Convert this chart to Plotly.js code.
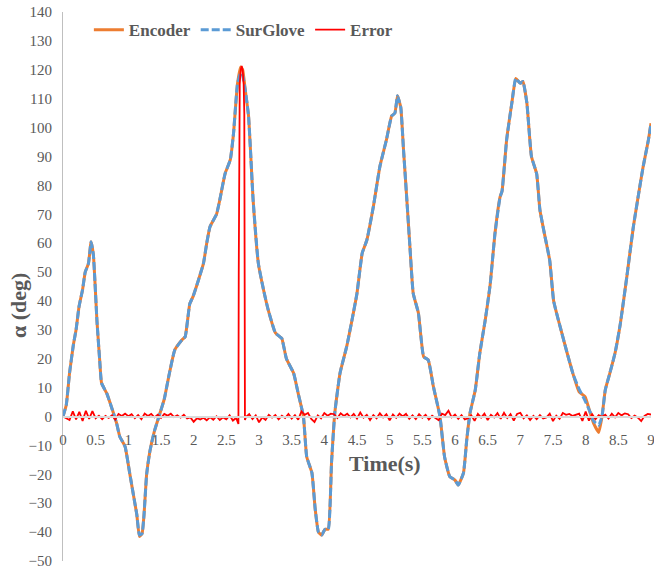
<!DOCTYPE html>
<html>
<head>
<meta charset="utf-8">
<script src="https://cdn.plot.ly/plotly-3.0.1.min.js"></script>
<style>html,body{margin:0;padding:0;background:#fff;}#chart{width:654px;height:572px;}</style>
</head>
<body>
<div id="chart"></div>
<script>
// Time (s) for the angle traces
var timeT = [0,0.05,0.1,0.16,0.2,0.245,0.3,0.34,0.39,0.43,0.465,0.52,0.56,0.59,0.67,0.74,0.82,0.87,0.95,1.02,1.1,1.13,1.17,1.21,1.24,1.28,1.33,1.4,1.485,1.55,1.62,1.71,1.82,1.87,1.94,1.99,2.07,2.15,2.2,2.25,2.35,2.4,2.48,2.56,2.61,2.67,2.72,2.75,2.79,2.84,2.91,2.99,3.07,3.14,3.25,3.32,3.35,3.42,3.53,3.6,3.68,3.73,3.81,3.86,3.91,3.96,4.01,4.06,4.11,4.16,4.24,4.34,4.42,4.5,4.58,4.65,4.75,4.85,4.95,5.03,5.08,5.12,5.17,5.21,5.26,5.31,5.36,5.44,5.52,5.59,5.67,5.77,5.84,5.92,6.0,6.05,6.13,6.18,6.23,6.31,6.38,6.46,6.54,6.61,6.69,6.72,6.79,6.87,6.93,7.0,7.04,7.1,7.17,7.25,7.3,7.38,7.45,7.51,7.61,7.71,7.81,7.9,7.99,8.07,8.12,8.2,8.25,8.3,8.37,8.45,8.53,8.63,8.73,8.81,8.88,8.96,9.0];
// Encoder angle (deg)
var encoder = [0,4,15,25,30,38,44,50,53,60.5,56,33,20,11.6,8,3.4,-2.3,-7,-10.4,-19.5,-30,-34,-41.5,-40.5,-34,-20,-12,-5,1.2,6,14,23,26.5,27.6,39,41.5,47,53,60,65.7,70,75,84,88.8,98,115,121,120,113,104,75,53,43.8,37,29,27.6,27,20,15,8,0,-13.9,-19.5,-32,-40,-41,-39,-39,-16,1.2,15,24,33,42.7,56.6,61,72.6,86.5,95.7,104,105,111,107,93,76,58.8,42.7,35.8,20.7,19.6,10.3,0,-13.9,-20.8,-22,-23.7,-19.5,-8,1.2,9.2,22,33,46,63,76,78,95.7,108.5,117,115.3,116,108.5,90,84,71.5,62,54,40,31,22.5,14.5,8.5,6.9,1.2,-2.3,-5.5,0,9.2,15,22,32,48.4,65.7,77,86.5,95.7,101.5];
// SurGlove angle (deg)
var surglove = [0,4,15,25,30,38,44,50,53,60.5,56,33,20,11.6,8,3.4,-2.3,-7,-10.4,-19.5,-30,-34,-41,-40.5,-34,-20,-12,-5,1.2,6,14,23,26.5,27.6,39,41.5,47,53,60,65.7,70,75,84,88.8,98,115,119,118,113,104,75,53,43.8,37,29,27.6,27,20,15,8,0,-13.9,-19.5,-32,-40,-41,-39,-39,-16,1.2,15,24,33,42.7,56.6,61,72.6,86.5,95.7,104,105,111,107,93,76,58.8,42.7,35.8,20.7,19.6,10.3,0,-13.9,-20.8,-22,-23.7,-19.5,-8,1.2,9.2,22,33,46,63,76,78,95.7,108.5,117,115.3,116,108.5,90,84,71.5,62,54,40,31,22.5,14.5,9.5,5.5,1.5,-1.5,-3,0,9.2,15,22,32,48.4,65.7,77,86.5,95.7,101.5];
// Error time (s) and value (deg)
var errT = [0,0.05,0.1,0.15,0.2,0.25,0.3,0.35,0.4,0.45,0.5,0.55,0.6,0.65,0.7,0.75,0.8,0.85,0.9,0.95,1,1.05,1.1,1.15,1.2,1.25,1.3,1.35,1.4,1.45,1.5,1.55,1.6,1.65,1.7,1.75,1.8,1.85,1.9,1.95,2,2.05,2.1,2.15,2.2,2.25,2.3,2.35,2.4,2.45,2.5,2.55,2.6,2.65,2.685,2.69,2.695,2.705,2.72,2.735,2.75,2.765,2.775,2.78,2.785,2.8,2.85,2.9,2.95,3,3.05,3.1,3.15,3.2,3.25,3.3,3.35,3.4,3.45,3.5,3.55,3.6,3.65,3.7,3.75,3.8,3.85,3.9,3.95,4,4.05,4.1,4.15,4.2,4.25,4.3,4.35,4.4,4.45,4.5,4.55,4.6,4.65,4.7,4.75,4.8,4.85,4.9,4.95,5,5.05,5.1,5.15,5.2,5.25,5.3,5.35,5.4,5.45,5.5,5.55,5.6,5.65,5.7,5.75,5.8,5.85,5.9,5.95,6,6.05,6.1,6.15,6.2,6.25,6.3,6.35,6.4,6.45,6.5,6.55,6.6,6.65,6.7,6.75,6.8,6.85,6.9,6.95,7,7.05,7.1,7.15,7.2,7.25,7.3,7.35,7.4,7.45,7.5,7.55,7.6,7.65,7.7,7.75,7.8,7.85,7.9,7.95,8,8.05,8.1,8.15,8.2,8.25,8.3,8.35,8.4,8.45,8.5,8.55,8.6,8.65,8.7,8.75,8.8,8.85,8.9,8.95,9];
var errV = [0,-0.5,-1.2,1.8,-1,1.6,-1.5,2,-0.8,1.9,-0.6,0.3,-0.9,0.2,-0.5,0.4,-1.1,0.9,0.2,1,0.1,0.8,-0.6,0.5,-0.9,1,0.2,0.9,-0.3,0.6,-0.5,0.9,0.3,1,-0.2,0.4,-0.4,0.6,-0.7,-0.3,-1.8,-0.6,-1,-0.4,-1.3,-0.2,-1.1,0.1,-1.2,-0.3,-1,0.4,-1.4,-0.5,-2.6,50,105,115,120,121.3,120,115,105,50,-1.2,-0.2,0.8,-0.9,0.4,-2,-0.3,-1.2,0.6,-0.4,0.5,-1,0.3,-0.5,0.9,-0.7,0.5,-1.1,1.8,0.6,1.2,-0.8,-1.9,0.4,-0.6,1.2,0.3,1,0.8,-0.5,1.1,0.2,1,-0.3,0.9,-0.7,1.4,-0.4,0.6,-1.2,0.5,-0.6,1.1,-0.3,0.8,-1.3,0.7,-0.5,1,0,0.9,-0.8,0.4,-0.9,0.8,-0.4,0.6,-1,0.3,-0.5,-1.3,1,0.5,2,-0.3,0.7,-0.8,0.5,-1,-0.6,0.4,-1.5,0.9,-0.4,1,-1.2,0.6,-0.3,1.2,-0.8,1.3,-0.5,0.8,-1.4,0.9,1.3,-0.6,0.4,-1.2,0.2,-0.9,0.5,-0.7,-0.3,1,-1.6,0.3,-0.8,1.2,0.6,0.9,0.2,0.7,1,-1.5,1.7,-1.4,0.8,-0.9,0.5,-0.2,0.6,-0.7,1,-0.3,1.2,0.4,1.1,0.8,-0.5,0.3,-0.4,-1.6,0.2,0.9,0.7];
var seriesNames = ['Encoder', 'SurGlove', 'Error'];

var serif = 'Liberation Serif';
var gray = '#595959';

var traces = [
  {x: timeT, y: encoder, name: seriesNames[0], type: 'scatter', mode: 'lines',
   line: {color: '#ED7D31', width: 3, shape: 'spline', smoothing: 0.4}},
  {x: timeT, y: surglove, name: seriesNames[1], type: 'scatter', mode: 'lines',
   line: {color: '#5B9BD5', width: 3, dash: '8px,3px', shape: 'spline', smoothing: 0.4}},
  {x: errT, y: errV, name: seriesNames[2], type: 'scatter', mode: 'lines',
   line: {color: '#FF0000', width: 1.8}}
];

var layout = {
  width: 654, height: 572,
  margin: {l: 63, r: 3, t: 12, b: 11, pad: 0},
  paper_bgcolor: '#fff', plot_bgcolor: '#fff',
  font: {family: serif, color: gray, size: 14},
  showlegend: true,
  legend: {orientation: 'h', x: 0.044, xanchor: 'left', y: 0.967, yanchor: 'middle',
    font: {family: serif, size: 17, color: gray, weight: 'bold'}, bgcolor: 'rgba(0,0,0,0)',
    itemwidth: 30, tracegroupgap: 0},
  xaxis: {range: [0, 9], dtick: 0.5, tick0: 0, anchor: 'free', position: 50/190,
    showline: true, linecolor: '#d9d9d9', linewidth: 2, showgrid: false, zeroline: false,
    ticks: 'outside', ticklen: 9, tickcolor: 'rgba(0,0,0,0)', ticklabeloverflow: 'allow',
    tickfont: {family: serif, size: 15, color: gray}},
  yaxis: {range: [-50, 140], dtick: 10, tick0: 0, showline: true, linecolor: '#bfbfbf', linewidth: 1,
    showgrid: false, zeroline: false, ticks: 'outside', ticklen: 7, tickcolor: 'rgba(0,0,0,0)',
    tickfont: {family: serif, size: 15, color: gray}},
  annotations: [
    {text: '<b>Time(s)</b>', xref: 'paper', yref: 'paper', x: (385-63)/588, y: (561-463)/549,
     xanchor: 'center', yanchor: 'middle', showarrow: false,
     font: {family: serif, size: 22, color: gray}},
    {text: '<b>α (deg)</b>', xref: 'paper', yref: 'paper', x: (19-63)/588, y: (561-306)/549,
     xanchor: 'center', yanchor: 'middle', showarrow: false, textangle: -90,
     font: {family: serif, size: 22, color: gray}}
  ]
};

Plotly.newPlot('chart', traces, layout, {displayModeBar: false, staticPlot: true});
</script>
</body>
</html>
